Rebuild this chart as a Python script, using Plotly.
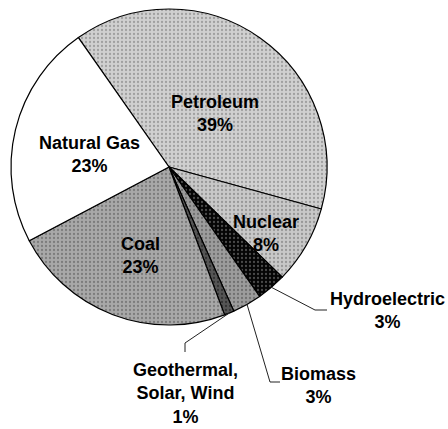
import math
import plotly.graph_objects as go

# ---- data ----
labels = ["Petroleum", "Nuclear", "Hydroelectric", "Biomass",
          "Geothermal,<br>Solar, Wind", "Coal", "Natural Gas"]
values = [39, 8, 3, 3, 1, 23, 23]

# ---- styles ----
W, H = 448, 429
fills = ["#d0d0d0", "#c8c8c8", "#050505", "#9c9c9c", "#555555", "#a8a8a8", "#ffffff"]
dots = ["#a0a0a0", "#989898", "#4a4a4a", "#707070", "#333333", "#7c7c7c", "#ffffff"]
rotation = -35
cx, cy, R = 169, 167, 158  # pie centre / radius in pixels

def px(x, y):
    return x / W, 1 - y / H

x0, y1 = px(cx - R, cy - R)
x1, y0 = px(cx + R, cy + R)

fig = go.Figure(go.Pie(
    labels=labels, values=values, sort=False, direction="clockwise",
    rotation=rotation, textinfo="none", hoverinfo="label+percent",
    marker=dict(colors=fills, line=dict(color="#000000", width=1.2),
                pattern=dict(shape=[".", ".", ".", ".", ".", ".", ""],
                             fgcolor=dots, bgcolor=fills, size=4, solidity=0.25)),
    domain=dict(x=[x0, x1], y=[y0, y1]), showlegend=False,
))

# label positions (pixels) and font
label_pos = [(215, 113), (266, 234), (387, 310), (318, 385), (185, 393), (140, 255), (89, 154)]
font = dict(family="Liberation Sans, Arial", size=18, color="#000000")
annotations = []
for lab, v, (lx, ly) in zip(labels, values, label_pos):
    ax_, ay_ = px(lx, ly)
    annotations.append(dict(x=ax_, y=ay_, xref="paper", yref="paper",
                            text=f"<b>{lab}<br>{v}%</b>", showarrow=False,
                            font=font, xanchor="center", yanchor="middle", align="center"))

# leader lines for the small outside slices
elbows = {2: [(315, 310), (327, 310)], 3: [(270, 382), (280, 382)], 4: [(185, 343), (185, 352)]}
total = sum(values)
cum = 0
shapes = []
for i, v in enumerate(values):
    mid = rotation + (cum + v / 2) / total * 360
    cum += v
    if i in elbows:
        sx = cx + R * math.sin(math.radians(mid))
        sy = cy - R * math.cos(math.radians(mid))
        pts = [(sx, sy)] + elbows[i]
        path = "M " + " L ".join(f"{px(a, b)[0]},{px(a, b)[1]}" for a, b in pts)
        shapes.append(dict(type="path", path=path, xref="paper", yref="paper",
                           line=dict(color="#222222", width=1)))

fig.update_layout(width=W, height=H, margin=dict(l=0, r=0, t=0, b=0),
                  paper_bgcolor="white", plot_bgcolor="white",
                  annotations=annotations, shapes=shapes)
fig.write_html("out.html", config={"displayModeBar": False})

# remove the browser's default page margin so the figure sits at the window's corner
with open("out.html", encoding="utf-8") as f:
    html = f.read()
html = html.replace("<body>", '<body style="margin:0;padding:0;overflow:hidden">', 1)
with open("out.html", "w", encoding="utf-8") as f:
    f.write(html)
